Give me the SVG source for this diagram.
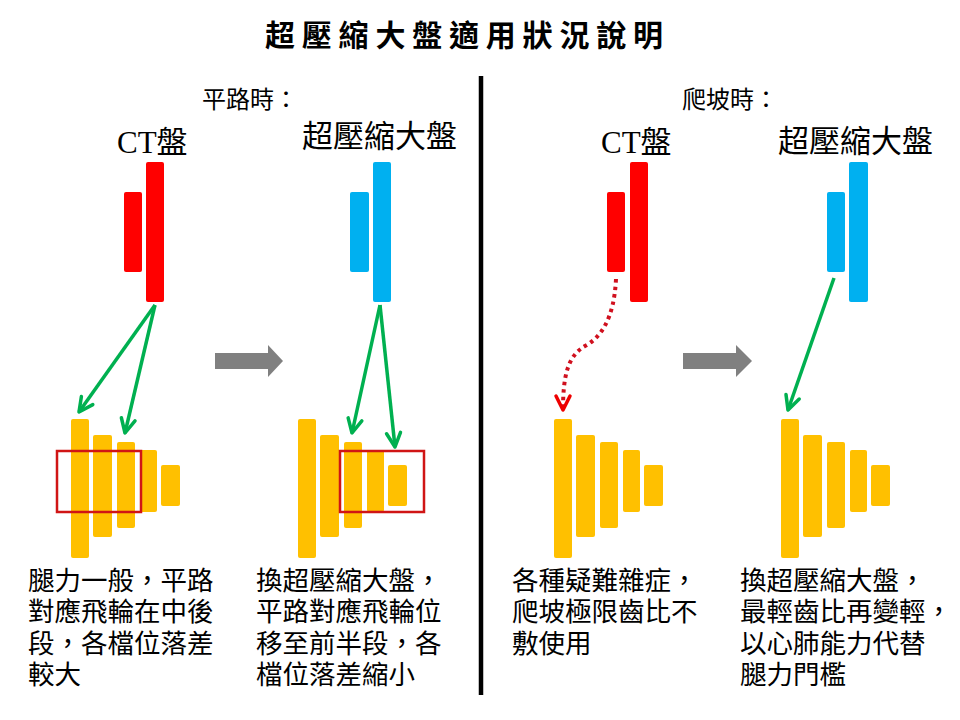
<svg xmlns="http://www.w3.org/2000/svg" width="960" height="720" viewBox="0 0 960 720">
<style>
.title{font-family:"Noto Sans CJK TC","Noto Sans CJK SC",sans-serif;font-size:30px;font-weight:bold;letter-spacing:6.8px;fill:#000}
.sub{font-family:"Noto Sans CJK TC",sans-serif;font-size:24px;fill:#000}
.lab{font-family:"Liberation Serif","Noto Sans CJK TC",serif;font-size:31px;fill:#000}
.cjk{font-family:"Noto Sans CJK TC",sans-serif;font-size:31px;fill:#000}
.desc{font-family:"Noto Sans CJK TC",sans-serif;font-size:26.5px;fill:#000}
.red{fill:#ff0000}
.blue{fill:#00b0f0}
.gold{fill:#ffc000}
.box{fill:none;stroke:#d01515;stroke-width:2.5}
.garrow{fill:none;stroke:#00b050;stroke-width:3.5}
.gray{fill:#808080}
</style>
<defs>
<marker id="gh" viewBox="0 0 20 20" refX="17" refY="10" markerWidth="20" markerHeight="20" markerUnits="userSpaceOnUse" orient="auto">
<path d="M3,3 L17,10 L3,17" fill="none" stroke="#00b050" stroke-width="3.5" stroke-linecap="round" stroke-linejoin="round"/>
</marker>
<marker id="rh" viewBox="0 0 20 20" refX="17" refY="10" markerWidth="20" markerHeight="20" markerUnits="userSpaceOnUse" orient="auto">
<path d="M3,3 L17,10 L3,17" fill="none" stroke="#ee0000" stroke-width="3.5" stroke-linecap="round" stroke-linejoin="round"/>
</marker>
<g id="cassette">
<rect x="0" y="0" width="18" height="139" rx="2" class="gold"/>
<rect x="22" y="16" width="19" height="102" rx="2" class="gold"/>
<rect x="46" y="23" width="18" height="86" rx="2" class="gold"/>
<rect x="69" y="31" width="17" height="62" rx="2" class="gold"/>
<rect x="90" y="46" width="19" height="41" rx="2" class="gold"/>
</g>
</defs>
<rect width="960" height="720" fill="#fff"/>

<g id="title"><text class="title" x="265" y="46">超壓縮大盤適用狀況說明</text></g>
<g id="divider"><line x1="481" y1="76" x2="481" y2="695" stroke="#000" stroke-width="4.5"/></g>

<g id="flat-label"><text class="sub" x="202" y="108">平路時：</text></g>
<g id="climb-label"><text class="sub" x="682" y="108">爬坡時：</text></g>

<g id="ct-flat">
<text class="lab" x="117" y="153">CT盤</text>
<rect x="146" y="162" width="18" height="140" rx="2" class="red"/>
<rect x="124" y="192" width="18" height="80" rx="2" class="red"/>
</g>
<g id="big-flat">
<text class="cjk" x="302" y="147">超壓縮大盤</text>
<rect x="373" y="162" width="18" height="140" rx="2" class="blue"/>
<rect x="350" y="192" width="19" height="80" rx="2" class="blue"/>
</g>
<g id="ct-climb">
<text class="lab" x="601" y="153">CT盤</text>
<rect x="630" y="162" width="18" height="140" rx="2" class="red"/>
<rect x="607" y="192" width="18" height="80" rx="2" class="red"/>
</g>
<g id="big-climb">
<text class="cjk" x="778" y="152">超壓縮大盤</text>
<rect x="849" y="162" width="19" height="140" rx="2" class="blue"/>
<rect x="827" y="192" width="18" height="80" rx="2" class="blue"/>
</g>

<g id="cassette-1"><use href="#cassette" x="71" y="419"/><rect x="57" y="451" width="84" height="61" class="box"/></g>
<g id="cassette-2"><use href="#cassette" x="298" y="419"/><rect x="340" y="451" width="84" height="61" class="box"/></g>
<g id="cassette-3"><use href="#cassette" x="554" y="419"/></g>
<g id="cassette-4"><use href="#cassette" x="781" y="419"/></g>

<g id="connectors">
<line x1="155" y1="305" x2="79" y2="412" class="garrow" marker-end="url(#gh)"/>
<line x1="155" y1="305" x2="125" y2="433" class="garrow" marker-end="url(#gh)"/>
<line x1="380" y1="305" x2="352" y2="433" class="garrow" marker-end="url(#gh)"/>
<line x1="380" y1="305" x2="395" y2="447" class="garrow" marker-end="url(#gh)"/>
<path d="M616,279 C614,320 600,338 585,346 C568,356 563,375 563,410" fill="none" stroke="#d0101e" stroke-width="4" stroke-dasharray="3.5 4" marker-end="url(#rh)"/>
<line x1="834" y1="278" x2="788" y2="410" class="garrow" marker-end="url(#gh)"/>
<path class="gray" d="M215,353 H268 V345 L283,361 L268,377 V369 H215 Z"/>
<path class="gray" d="M683,353 H736 V345 L752,361 L736,377 V369 H683 Z"/>
</g>

<g id="desc-1">
<text class="desc" x="28" y="590">腿力一般，平路</text>
<text class="desc" x="28" y="621">對應飛輪在中後</text>
<text class="desc" x="28" y="653">段，各檔位落差</text>
<text class="desc" x="28" y="684">較大</text>
</g>
<g id="desc-2">
<text class="desc" x="256" y="590">換超壓縮大盤，</text>
<text class="desc" x="256" y="621">平路對應飛輪位</text>
<text class="desc" x="256" y="653">移至前半段，各</text>
<text class="desc" x="256" y="684">檔位落差縮小</text>
</g>
<g id="desc-3">
<text class="desc" x="512" y="590">各種疑難雜症，</text>
<text class="desc" x="512" y="621">爬坡極限齒比不</text>
<text class="desc" x="512" y="653">敷使用</text>
</g>
<g id="desc-4">
<text class="desc" x="740" y="590">換超壓縮大盤，</text>
<text class="desc" x="740" y="621">最輕齒比再變輕，</text>
<text class="desc" x="740" y="653">以心肺能力代替</text>
<text class="desc" x="740" y="684">腿力門檻</text>
</g>
</svg>
